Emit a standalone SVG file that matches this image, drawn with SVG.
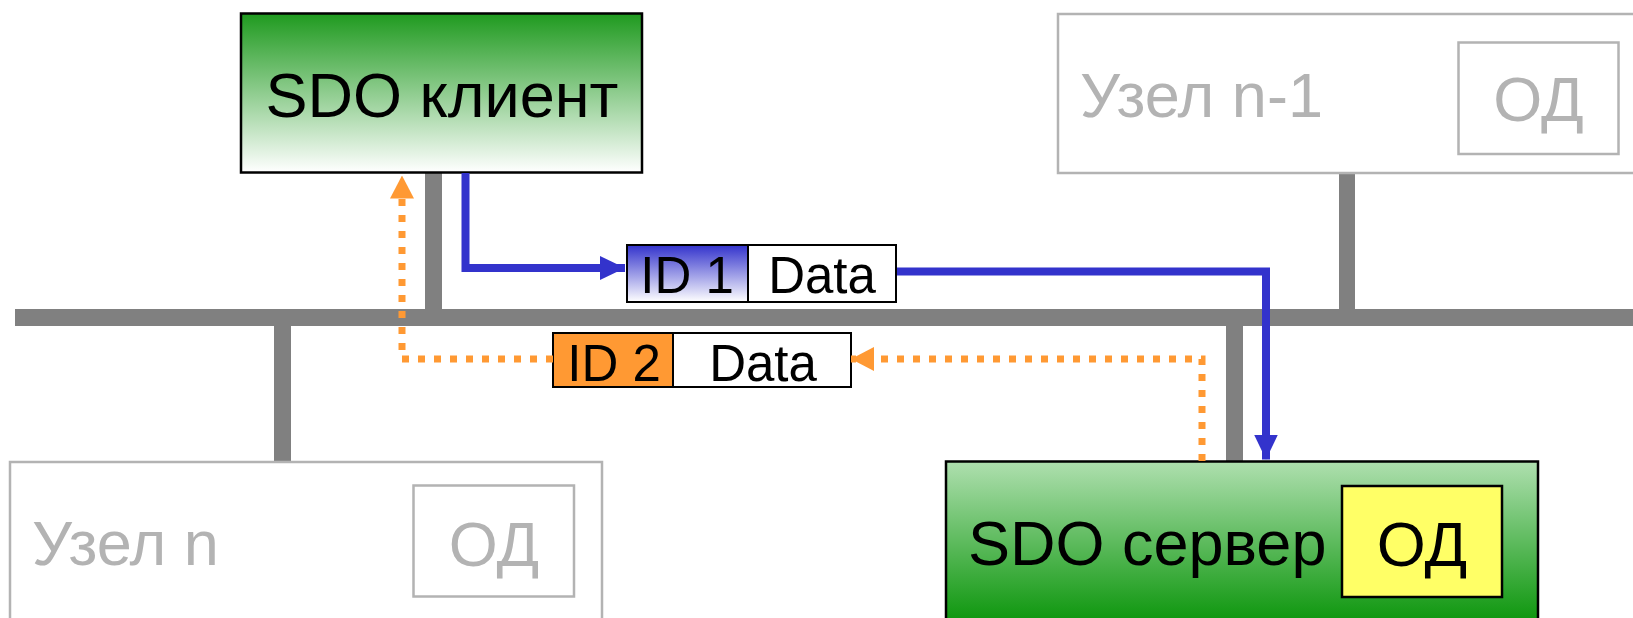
<svg xmlns="http://www.w3.org/2000/svg" width="1633" height="618" viewBox="0 0 1633 618">
  <defs>
    <linearGradient id="gClient" x1="0" y1="0" x2="0" y2="1">
      <stop offset="0" stop-color="#1f9a1f"/>
      <stop offset="1" stop-color="#ffffff"/>
    </linearGradient>
    <linearGradient id="gServer" gradientUnits="userSpaceOnUse" x1="0" y1="462" x2="0" y2="618">
      <stop offset="0" stop-color="#aedfae"/>
      <stop offset="1" stop-color="#119811"/>
    </linearGradient>
    <linearGradient id="gId1" x1="0" y1="0" x2="0" y2="1">
      <stop offset="0" stop-color="#3333cc"/>
      <stop offset="1" stop-color="#ffffff"/>
    </linearGradient>
    <marker id="arrBlue" viewBox="0 0 25 24" refX="25" refY="12" markerWidth="25" markerHeight="24" markerUnits="userSpaceOnUse" orient="auto">
      <path d="M0,0 L25,12 L0,24 Z" fill="#3333cc"/>
    </marker>
    <marker id="arrOrange" viewBox="0 0 23 24" refX="23" refY="12" markerWidth="23" markerHeight="24" markerUnits="userSpaceOnUse" orient="auto">
      <path d="M0,0 L23,12 L0,24 Z" fill="#ff9933"/>
    </marker>
  </defs>
  <style>
    text { font-family: "Liberation Sans", Arial, sans-serif; }
    .big { font-size: 63px; }
    .pkt { font-size: 51px; fill: #000; }
    .dim { fill: #b3b3b3; }
    .dimbox { fill: #ffffff; stroke: #b3b3b3; stroke-width: 2.5; }
    .bus { fill: #808080; }
    .blue { fill: none; stroke: #3333cc; stroke-width: 8; stroke-linejoin: miter; }
    .orange { fill: none; stroke: #ff9933; stroke-width: 7; stroke-dasharray: 7 9; }
  </style>

  <g id="bus">
    <rect class="bus" x="15" y="309" width="1618" height="17"/>
    <rect class="bus" x="425" y="172" width="17" height="140"/>
    <rect class="bus" x="1339" y="172" width="16" height="140"/>
    <rect class="bus" x="274" y="322" width="17" height="141"/>
    <rect class="bus" x="1226" y="322" width="17" height="141"/>
  </g>

  <g id="node-client">
    <rect x="241" y="13.5" width="401" height="159" fill="url(#gClient)" stroke="#000" stroke-width="2.5"/>
    <text class="big" x="442" y="117" text-anchor="middle" fill="#000">SDO клиент</text>
  </g>

  <g id="node-n1">
    <rect class="dimbox" x="1058" y="14" width="600" height="159"/>
    <text class="big dim" x="1080" y="117">Узел n-1</text>
    <rect class="dimbox" x="1458.5" y="42.5" width="160" height="111.5"/>
    <text class="big dim" x="1538.5" y="121" text-anchor="middle">ОД</text>
  </g>

  <g id="node-n">
    <rect class="dimbox" x="10" y="462" width="592" height="170"/>
    <text class="big dim" x="32" y="565">Узел n</text>
    <rect class="dimbox" x="413.5" y="485.5" width="160.5" height="111"/>
    <text class="big dim" x="494" y="566" text-anchor="middle">ОД</text>
  </g>

  <g id="node-server">
    <rect x="946" y="461.5" width="592" height="170" fill="url(#gServer)" stroke="#000" stroke-width="2.5"/>
    <text class="big" x="968" y="565" fill="#000">SDO сервер</text>
    <rect x="1342" y="486" width="160" height="111" fill="#ffff66" stroke="#000" stroke-width="2.5"/>
    <text class="big" x="1422" y="566" text-anchor="middle" fill="#000">ОД</text>
  </g>

  <g id="packet-1">
    <rect x="627" y="245" width="121" height="57" fill="url(#gId1)" stroke="#000" stroke-width="2"/>
    <rect x="748" y="245" width="148" height="57" fill="#ffffff" stroke="#000" stroke-width="2"/>
    <text class="pkt" x="687" y="293" text-anchor="middle">ID 1</text>
    <text class="pkt" x="822" y="293" text-anchor="middle">Data</text>
  </g>

  <g id="packet-2">
    <rect x="553" y="333" width="120" height="54" fill="#ff9933" stroke="#000" stroke-width="2"/>
    <rect x="673" y="333" width="178" height="54" fill="#ffffff" stroke="#000" stroke-width="2"/>
    <text class="pkt" x="614" y="381" text-anchor="middle">ID 2</text>
    <text class="pkt" x="763" y="381" text-anchor="middle">Data</text>
  </g>

  <g id="connectors">
    <polyline class="blue" points="465.5,173 465.5,268 625,268" marker-end="url(#arrBlue)"/>
    <polyline class="blue" points="897,271.5 1266,271.5 1266,459.5" marker-end="url(#arrBlue)"/>
    <polyline class="orange" points="1202,461 1202,359 851,359" marker-end="url(#arrOrange)"/>
    <polyline class="orange" points="553,359 402,359 402,175.5" marker-end="url(#arrOrange)"/>
  </g>
</svg>
